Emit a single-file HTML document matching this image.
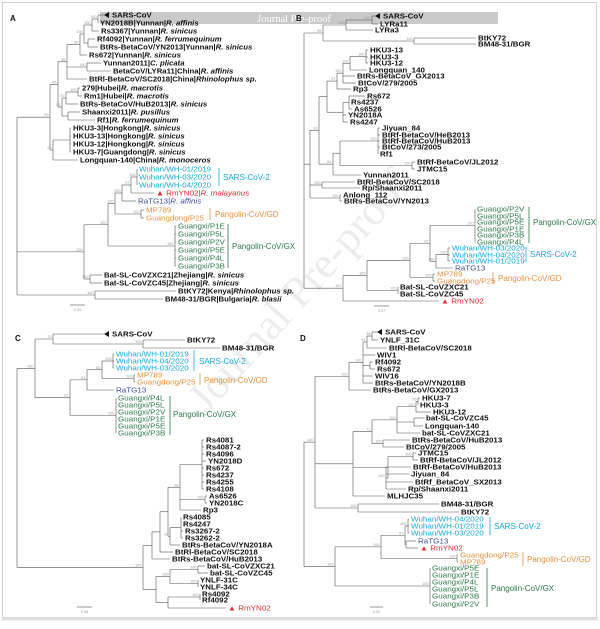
<!DOCTYPE html>
<html><head><meta charset="utf-8">
<style>
html,body{margin:0;padding:0;background:#fff;}
svg{display:block;font-family:"Liberation Sans",sans-serif;}
</style></head>
<body>
<svg id="s" width="600" height="629" viewBox="0 0 600 629" xmlns="http://www.w3.org/2000/svg">
<rect x="0" y="0" width="600" height="629" fill="#fff"/>
<text x="310" y="300" transform="rotate(-48 310 300)" text-anchor="middle" font-family="Liberation Serif, serif" font-size="44" fill="#ececec">Journal Pre-proof</text>
<rect x="2.5" y="2.5" width="594" height="615" fill="none" stroke="#d0d0d0" stroke-width="1"/>
<line x1="2" y1="619" x2="598" y2="619" stroke="#e0e0e0" stroke-width="3"/>
<rect x="100" y="12" width="398" height="12" fill="#c9c9c9"/>
<text x="294" y="22" text-anchor="middle" font-family="Liberation Serif, serif" font-size="10.5" fill="#fff">Journal Pre-proof</text>
<g font-weight="bold" font-size="8" fill="#111"><text x="10" y="21">A</text><text x="296" y="21">B</text><text x="15" y="341">C</text><text x="300" y="341">D</text></g>
<g id="tree"></g>
</svg>
<script>
const cy='#14a9dc',or='#e8913e',gr='#2d7a4a',rd='#e0282e',bl='#3d4c9e';
let FS_B=6.6, FS_C=7.6, SX=1;
function L(x,y,t,o){return Object.assign({leaf:1,x:x,y:y,t:t},o||{});}
function N(x,lab,kids,yo){return {x:x,lab:lab,kids:kids,yo:yo};}
let out='';
function line(x1,y1,x2,y2){out+=`<line x1="${x1}" y1="${y1}" x2="${x2}" y2="${y2}" stroke="#555" stroke-width="0.6"/>`;}
function txt(x,y,s,fill,bold){
  const parts=s.split('*');let h='';
  parts.forEach((p,i)=>{if(!p)return;h+=i%2?`<tspan font-style="italic">${p}</tspan>`:`<tspan>${p}</tspan>`;});
  out+=`<text transform="translate(${x} ${y}) scale(${SX} 1)" font-size="${bold?FS_B:FS_C}" font-weight="${bold?'bold':'normal'}" fill="${fill}">${h}</text>`;
}
function endX(n){return n.leaf?(n.tri?n.x-8:n.x-2):n.x;}
function drawLeaf(n){
  if(n.tri){out+=`<polygon points="${n.x-8},${n.y} ${n.x-3},${n.y-3} ${n.x-3},${n.y+3}" fill="#111"/>`;}
  if(n.c) txt(n.x,n.y+2.6,n.t,n.c,false); else txt(n.x,n.y+2.6,n.t,'#111',true);
}
function lay(n){
  if(n.leaf){drawLeaf(n);return n.y;}
  const ys=n.kids.map(lay);
  const mn=Math.min(...ys),mx=Math.max(...ys);
  n.y=(n.yo!==undefined)?n.yo:(mn+mx)/2;
  line(n.x,mn,n.x,mx);
  n.kids.forEach((k,i)=>{line(n.x,ys[i],endX(k),ys[i]);if(!k.leaf&&k.lab)out+=`<text x="${k.x-1.5}" y="${ys[i]-1}" text-anchor="end" font-size="3.8" fill="#999">${k.lab}</text>`;});
  return n.y;
}
function grp(x,ys,names,c,nx,lab){return N(nx,lab,names.map((t,i)=>L(x,ys[i],t,{c:c})));}
function br(x,y1,y2,c,t,tx,ty){out+=`<line x1="${x}" y1="${y1}" x2="${x}" y2="${y2}" stroke="${c}" stroke-width="0.8"/>`;out+=`<text x="${tx}" y="${ty}" font-size="8" fill="${c}">${t}</text>`;}
function scale(x1,x2,y,t){line(x1,y,x2,y);out+=`<text x="${(x1+x2)/2}" y="${y+6}" text-anchor="middle" font-size="3.8" fill="#999">${t}</text>`;}

/* Panel A */
FS_B=7.4; FS_C=7.6; SX=1.05;
const A=N(17,'',[
 N(50,'99',[
  N(58,'96',[
   N(67,'98',[
    N(80,'80',[
     N(84,'100',[
      N(92,'100',[
       N(98,'100',[L(112,15,'SARS-CoV',{tri:1}),L(100,23,'YN2018B|Yunnan|*R. affinis*')]),
       L(101,31,'Rs3367|Yunnan|*R. sinicus*')]),
      N(88,'',[L(97,39,'Rf4092|Yunnan|*R. ferrumequinum*'),L(100,47,'BtRs-BetaCoV/YN2013|Yunnan|*R. sinicus*')])]),
     L(89,55,'Rs672|Yunnan|*R. sinicus*')]),
    N(87,'100',[L(103,63,'Yunnan2011|*C. plicata*'),L(113,71,'BetaCoV/LYRa11|China|*R. affinis*')]),
    L(89,79,'BtRl-BetaCoV/SC2018|China|*Rhinolophus sp.*')]),
   N(62,'85',[
    N(66,'97',[N(78,'100',[L(82,88,'279|Hubei|*R. macrotis*'),L(84,96,'Rm1|Hubei|*R. macrotis*')]),L(80,104,'BtRs-BetaCoV/HuB2013|*R. sinicus*')]),
    N(68,'',[L(82,112,'Shaanxi2011|*R. pusillus*'),L(97,120,'Rf1|*R. ferrumequinum*')])])]),
  N(53,'99',[N(70,'',[L(73,128,'HKU3-3|Hongkong|*R. sinicus*'),L(73,136,'HKU3-13|Hongkong|*R. sinicus*'),L(73,144,'HKU3-12|Hongkong|*R. sinicus*'),L(73,152,'HKU3-7|Guangdong|*R. sinicus*')]),L(80,160,'Longquan-140|China|*R. monoceros*')])]),
 N(84,'100',[
  N(108,'100',[
   N(115,'100',[
    N(122,'100',[
     N(131,'97',[grp(139,[169,177,185],['Wuhan/WH-01/2019','Wuhan/WH-03/2020','Wuhan/WH-04/2020'],cy,137,'100'),L(156,193,'▲ RmYN02|<tspan font-style="italic">R. malayanus</tspan>',{c:rd})]),
     L(138,201,'RaTG13|*R. affinis*',{c:bl})]),
    grp(146,[210,218],['MP789','Guangdong/P25'],or,141,'100')]),
   grp(178,[226,234,242,250,258,266],['Guangxi/P1E','Guangxi/P5L','Guangxi/P2V','Guangxi/P5E','Guangxi/P4L','Guangxi/P3B'],gr,175,'100')]),
  N(90,'100',[L(104,275,'Bat-SL-CoVZXC21|Zhejiang|*R. sinicus*'),L(104,283,'Bat-SL-CoVZC45|Zhejiang|*R. sinicus*')])]),
 N(95,'100',[L(178,291,'BtKY72|Kenya|*Rhinolophus sp.*'),L(165,299,'BM48-31/BGR|Bulgaria|*R. blasii*')])]);
lay(A);
br(219,168,186,cy,'SARS-CoV-2',223,180);
br(210,208,220,or,'Pangolin-CoV/GD',215,217);
br(228,224,268,gr,'Pangolin-CoV/GX',232,249);
scale(70,85,305,'0.05');

/* Panels B-D */
FS_B=6.9; FS_C=7.0; SX=1.15;
const B=N(304,'',[
 N(323,'96',[N(346,'100',[N(372,'100',[L(383,16,'SARS-CoV',{tri:1}),L(380,24,'LYRa11')]),L(375,30,'LYRa3')]),N(414,'100',[L(478,38,'BtKY72'),L(478,44,'BM48-31/BGR')])]),
 N(310,'',[
  N(319,'99',[
   N(327,'',[
    N(337,'97',[N(343,'100',[N(350,'100',[N(366,'100',[L(370,50,'HKU3-13'),L(370,57,'HKU3-3'),L(370,63,'HKU3-12')]),L(369,70,'Longquan_140')]),L(357,76,'BtRs-BetaCoV_GX2013'),L(358,83,'BtCoV/279/2005')]),L(353,89,'Rp3')]),
    N(343,'',[N(349,'',[L(367,96,'Rs672'),L(351,102,'Rs4237'),L(354,109,'As6526')]),L(348,115,'YN2018A'),L(350,122,'Rs4247')])]),
   N(333,'81',[N(340,'',[N(378,'100',[L(382,128,'Jiyuan_84'),L(382,135,'BtRf-BetaCoV/HeB2013'),L(382,141,'BtRf-BetaCoV/HuB2013'),L(382,147,'BtCoV/273/2005'),L(380,154,'Rf1')]),N(412,'100',[L(417,162,'BtRf-BetaCoV/JL2012'),L(417,169,'JTMC15')])]),L(363,175,'Yunnan2011')])]),
  N(322,'100',[L(357,182,'BtRl-BetaCoV/SC2018'),L(362,188,'Rp/Shaanxi2011')]),
  N(340,'100',[L(343,195,'Anlong_112'),L(344,201,'BtRs-BetaCoV/YN2013')])]),
 N(343,'100',[
  N(367,'100',[
   N(410,'100',[
    N(430,'92',[grp(477,[209,216,222,229,235,242],['Guangxi/P2V','Guangxi/P5L','Guangxi/P5E','Guangxi/P1E','Guangxi/P3B','Guangxi/P4L'],gr,475,'100'),
      N(436,'100',[grp(452,[248,255,261],['Wuhan/WH-03/2020','Wuhan/WH-04/2020','Wuhan/WH-01/2019'],cy,448,'100'),L(455,268,'RaTG13',{c:bl})])]),
    grp(437,[274,281],['MP789','Guangdong/P25'],or,433,'100')]),
   N(398,'100',[L(400,287,'Bat-SL-CoVZXC21'),L(400,294,'Bat-SL-CoVZC45')])]),
  L(441,301,'▲ RmYN02',{c:rd})])]);
lay(B);
br(529,207,243,gr,'Pangolin-CoV/GX',533,225);
br(526,247,262,cy,'SARS-CoV-2',530,257);
br(493,272,284,or,'Pangolin-CoV/GD',498,281);
scale(374,389,306,'0.07');

const C=N(17,'',[
 N(35,'100',[
  N(53,'70',[L(112,334,'SARS-CoV',{tri:1}),N(143,'100',[L(187,340,'BtKY72'),L(222,348,'BM48-31/BGR')])]),
  N(70,'87',[
   N(87,'84',[N(102,'82',[grp(116,[354,361,368],['Wuhan/WH-01/2019','Wuhan/WH-04/2020','Wuhan/WH-03/2020'],cy,113,'100'),grp(137,[375,382],['MP789','Guangdong/P25'],or,134,'100')]),L(116,390,'RaTG13',{c:bl})]),
   grp(118,[398,405,412,419,426,433],['Guangxi/P4L','Guangxi/P5L','Guangxi/P2V','Guangxi/P1E','Guangxi/P5E','Guangxi/P3B'],gr,116,'100')])]),
 N(143,'100',[
  N(152,'',[
   N(160,'',[
    N(168,'',[
     N(180,'98',[N(202,'',[L(206,440,'Rs4081'),L(206,447,'Rs4087-2'),L(206,454,'Rs4096'),L(208,461,'YN2018D'),L(206,468,'Rs672'),L(206,475,'Rs4237'),L(206,482,'Rs4255'),L(206,489,'Rs4108')]),N(205,'100',[L(209,496,'As6526'),L(209,503,'YN2018C')]),L(203,510,'Rp3')]),
     N(170,'98',[N(181,'',[L(183,517,'Rs4085'),L(183,524,'Rs4247'),L(185,531,'Rs3267-2'),L(185,538,'Rs3262-2')]),L(182,545,'BtRs-BetaCoV/YN2018A')])]),
    L(175,552,'BtRl-BetaCoV/SC2018')]),
   L(172,559,'BtRs-BetaCoV/HuB2013')]),
  N(156,'',[
   N(170,'100',[N(198,'100',[L(207,566,'bat-SL-CoVZXC21'),L(210,573,'bat-SL-CoVZC45')]),N(198,'100',[L(200,580,'YNLF-31C'),L(200,587,'YNLF-34C')])]),
   N(168,'',[N(200,'100',[L(202,594,'Rs4092'),L(202,600,'Rf4092')]),L(228,608,'▲ RmYN02',{c:rd})])])])]);
lay(C);
br(194,350,371,cy,'SARS-CoV-2',199,364);
br(200,373,385,or,'Pangolin-CoV/GD',204,383);
br(170,396,435,gr,'Pangolin-CoV/GX',173,417);
scale(77,92,607,'0.08');

const D=N(304,'',[
 N(315,'100',[
  N(349,'100',[
   N(363,'100',[N(367,'81',[N(372,'98',[L(385,332,'SARS-CoV',{tri:1}),L(380,340,'YNLF_31C')]),L(389,348,'BtRl-BetaCoV/SC2018')]),L(377,355,'WIV1'),N(370,'',[L(375,362,'Rf4092'),L(377,369,'Rs672')]),L(375,376,'WIV16'),L(375,383,'BtRs-BetaCoV/YN2018B')]),
   L(373,390,'BtRs-BetaCoV/GX2013')]),
  N(353,'',[
   N(372,'71',[N(397,'100',[N(416,'100',[N(418,'95',[L(422,398,'HKU3-7'),L(420,405,'HKU3-3')]),L(433,412,'HKU3-12')]),N(414,'',[L(426,418,'bat-SL-CoVZC45'),L(425,426,'Longquan-140')]),L(422,433,'bat-SL-CoVZXC21')]),
    N(383,'100',[L(412,440,'BtRs-BetaCoV/HuB2013'),L(406,447,'BtCoV/279/2005')])]),
   N(388,'',[N(413,'100',[L(418,453,'JTMC15'),L(420,460,'BtRf-BetaCoV/JL2012')]),N(386,'100',[L(413,467,'BtRf-BetaCoV/HuB2013'),L(411,474,'Jiyuan_84'),L(415,482,'BtRf_BetaCoV_SX2013'),L(408,489,'Rp/Shaanxi2011')])]),
   L(387,496,'MLHJC35')]),
  N(358,'100',[L(441,504,'BM48-31/BGR'),L(461,512,'BtKY72')])]),
 N(335,'100',[
  N(381,'100',[N(405,'87',[grp(411,[519,526,533],['Wuhan/WH-04/2020','Wuhan/WH-01/2019','Wuhan/WH-03/2020'],cy,408,'100'),N(406,'',[L(418,541,'RaTG13',{c:bl}),L(420,548,'▲ RmYN02',{c:rd})])]),
   grp(460,[555,562],['Guangdong/P25','MP789'],or,457,'100')]),
  grp(432,[568,575,582,589,596,604],['Guangxi/P5E','Guangxi/P1E','Guangxi/P4L','Guangxi/P5L','Guangxi/P3B','Guangxi/P2V'],gr,430,'100')])]);
lay(D);
br(490,517,535,cy,'SARS-CoV-2',494,529);
br(523,552,566,or,'Pangolin-CoV/GD',527,562);
br(487,568,607,gr,'Pangolin-CoV/GX',491,591);
scale(370,383,607,'0.02');

document.getElementById('tree').innerHTML=out;
</script>
</body></html>
